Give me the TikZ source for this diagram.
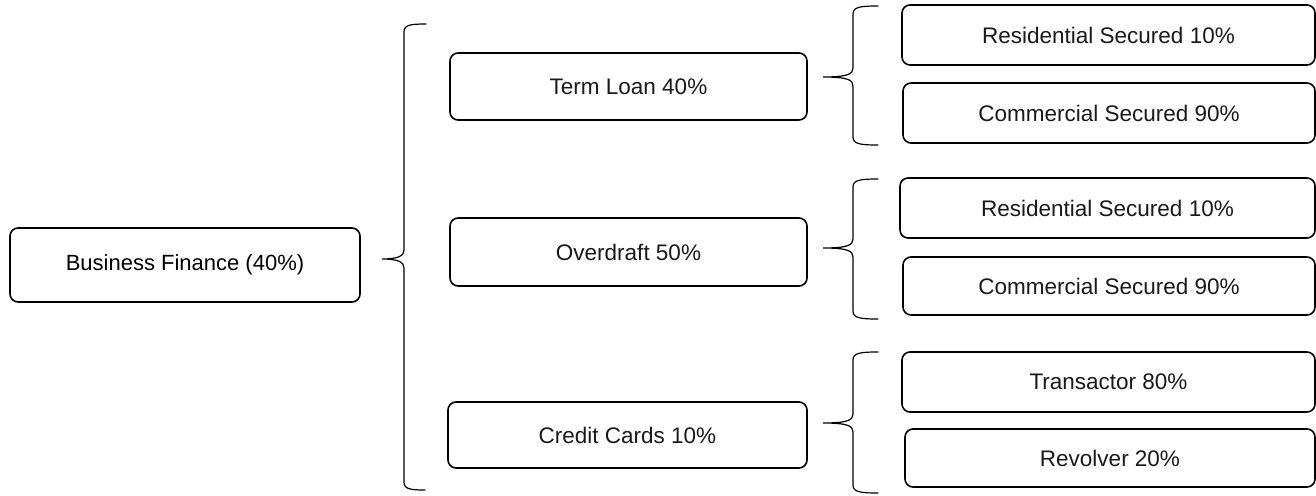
\documentclass[tikz,border=0pt]{standalone}
\usepackage{fontspec}
\setmainfont{Liberation Sans}
\begin{document}
\begin{tikzpicture}[x=1pt,y=-1pt,
  box/.style={draw,line width=1.6pt,rounded corners=8pt,inner sep=0pt,
    font=\fontsize{22.5}{26}\selectfont,text=black!90},
  brace/.style={draw,line width=1.2pt,line cap=round}]
\useasboundingbox (0,0) rectangle (1316,495);
\node[box,minimum width=350,minimum height=74,font=\fontsize{22}{26}\selectfont,text=black] (bf) at (185,265) {Business Finance (40\%)};
\node[box,minimum width=357,minimum height=67] (tl) at (628.5,86.5) {Term Loan 40\%};
\node[box,minimum width=357,minimum height=68] (od) at (628.5,252) {Overdraft 50\%};
\node[box,minimum width=359,minimum height=66] (cc) at (627.5,435) {Credit Cards 10\%};
\node[box,minimum width=413,minimum height=60] (r1) at (1108.5,35) {Residential Secured 10\%};
\node[box,minimum width=412,minimum height=60] (c1) at (1109,113) {Commercial Secured 90\%};
\node[box,minimum width=415,minimum height=60] (r2) at (1107.5,208) {Residential Secured 10\%};
\node[box,minimum width=412,minimum height=58] (c2) at (1109,286) {Commercial Secured 90\%};
\node[box,minimum width=413,minimum height=60] (tr) at (1108.5,382) {Transactor 80\%};
\node[box,minimum width=410,minimum height=58] (rv) at (1110,458) {Revolver 20\%};
% big brace
\draw[brace] (426,24) .. controls (410,24) and (404,25) .. (404,32) -- (404,250)
  .. controls (404,256) and (398,259) .. (382,259)
  .. controls (398,259) and (404,262) .. (404,268) -- (404,482)
  .. controls (404,489) and (410,490) .. (425,490);
% small braces
\foreach \t/\m/\b in {6/77/145, 179/248/319, 352/423/493}{
  \draw[brace] (878,\t) .. controls (860,\t) and (853,\t+1) .. (853,\t+8) -- (853,\m-9)
    .. controls (853,\m-3) and (848,\m) .. (823,\m)
    .. controls (848,\m) and (853,\m+3) .. (853,\m+9) -- (853,\b-8)
    .. controls (853,\b-1) and (860,\b) .. (878,\b);
}
\end{tikzpicture}
\end{document}
